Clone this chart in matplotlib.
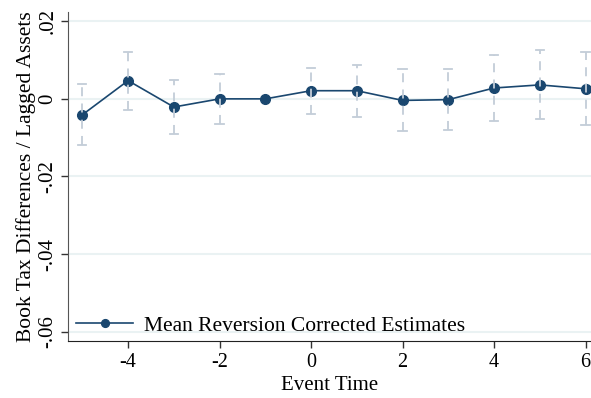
import matplotlib
matplotlib.use("Agg")
import matplotlib.pyplot as plt
import numpy as np

event_time = [-5, -4, -3, -2, -1, 0, 1, 2, 3, 4, 5, 6]
estimate = [-0.0041, 0.0047, -0.0021, 0.0000, 0.0000, 0.0021, 0.0021, -0.0004, -0.0002, 0.0028, 0.0036, 0.0026]
ci_upper = [0.0039, 0.0122, 0.0048, 0.0064, None, 0.0079, 0.0086, 0.0076, 0.0078, 0.0114, 0.0125, 0.0120]
ci_lower = [-0.0120, -0.0028, -0.0090, -0.0065, None, -0.0039, -0.0046, -0.0084, -0.0080, -0.0057, -0.0051, -0.0068]
y_ticks = [0.02, 0.0, -0.02, -0.04, -0.06]
y_ticklabels = [".02", "0", "-.02", "-.04", "-.06"]
x_ticks = [-4, -2, 0, 2, 4, 6]
x_ticklabels = ["-4", "-2", "0", "2", "4", "6"]

plt.rcParams['font.family'] = ['Liberation Serif', 'DejaVu Serif']

fig = plt.figure(figsize=(5.91, 3.98), dpi=100)
ax = fig.add_axes([0.1146, 0.1432, 0.8854, 0.8268])

navy = '#1a476f'
ci_col = '#c3cdd8'

ax.plot(event_time, estimate, color=navy, lw=1.2, marker='o', ms=7,
        zorder=3, label='Mean Reversion Corrected Estimates')

for x, lo, hi in zip(event_time, ci_lower, ci_upper):
    if lo is None:
        continue
    ax.plot([x, x], [lo, hi], color=ci_col, lw=1.3, ls=(0, (5, 4)), zorder=4)
    ax.plot([x - 0.09, x + 0.09], [hi, hi], color=ci_col, lw=1.3, zorder=4)
    ax.plot([x - 0.09, x + 0.09], [lo, lo], color=ci_col, lw=1.3, zorder=4)

ax.set_xlim(-5.32, 6.12)
ax.set_ylim(-0.0624, 0.0224)
ax.set_yticks(y_ticks)
ax.set_yticklabels(y_ticklabels, rotation=90, va='center', fontsize=15)
ax.set_xticks(x_ticks)
ax.set_xticklabels(x_ticklabels, fontsize=14.5)
ax.grid(axis='y', color='#eaf2f3', lw=1.5)
ax.set_axisbelow(True)
for s in ['top', 'right']:
    ax.spines[s].set_visible(False)
ax.spines['left'].set_color('#555555')
ax.spines['bottom'].set_color('#222222')
ax.tick_params(axis='both', direction='out', length=5, width=1, colors='#333333', labelcolor='black')
ax.tick_params(axis='y', pad=2.5)

ax.set_xlabel('Event Time', fontsize=15, labelpad=3)
ax.set_ylabel('Book Tax Differences / Lagged Assets', fontsize=15.5, labelpad=2)

leg = ax.legend(loc='lower left', frameon=False, fontsize=15.5, handlelength=2.65,
                handletextpad=0.47, markerscale=0.8,
                borderaxespad=0.0, bbox_to_anchor=(0.0, -0.01))

fig.savefig('out.png', dpi=100)
